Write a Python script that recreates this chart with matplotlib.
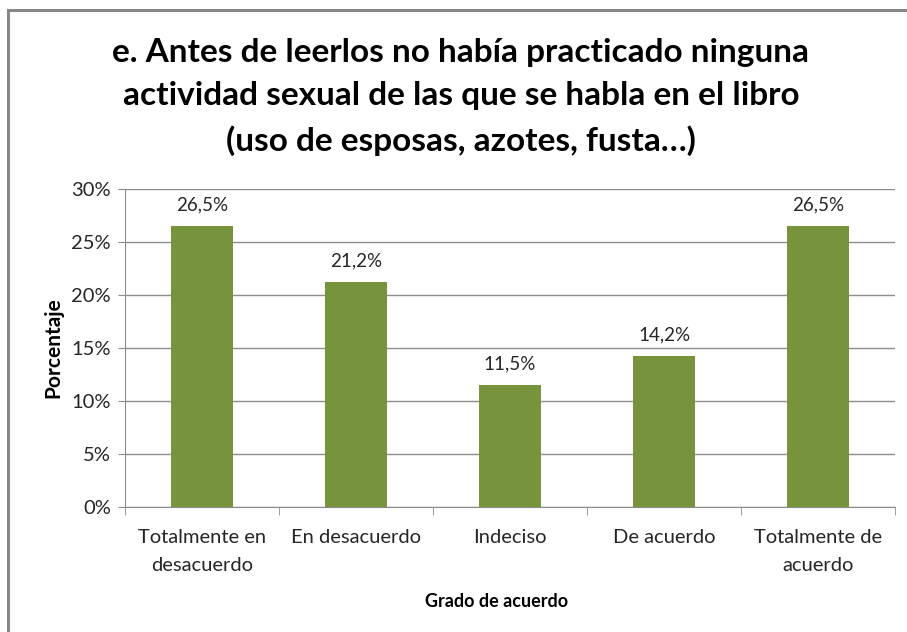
import matplotlib
matplotlib.use("Agg")
import matplotlib.pyplot as plt
from matplotlib.patches import Rectangle
from matplotlib.ticker import FuncFormatter, FixedLocator

categorias = ["Totalmente en\ndesacuerdo", "En desacuerdo", "Indeciso", "De acuerdo", "Totalmente de\nacuerdo"]
porcentajes = [26.5, 21.2, 11.5, 14.2, 26.5]
etiquetas = ["26,5%", "21,2%", "11,5%", "14,2%", "26,5%"]
titulo = "e. Antes de leerlos no había practicado ninguna\nactividad sexual de las que se habla en el libro\n(uso de esposas, azotes, fusta…)"

plt.rcParams['font.family'] = ['Lato', 'DejaVu Sans']

fig = plt.figure(figsize=(9.07, 6.32), dpi=100)
ax = fig.add_axes([125/907, 1 - 507/632, (895 - 125)/907, (507 - 189)/632])

# outer chart frame (cropped at right and bottom)
fig.patches.append(Rectangle((8/907, -0.05), 1.1, 1 - 10/632 + 0.05, transform=fig.transFigure,
                             fill=False, edgecolor='#878787', linewidth=2.2))

x = range(len(categorias))
ax.bar(x, porcentajes, width=0.4, color='#77933C', zorder=3)
for i, v in enumerate(porcentajes):
    ax.text(i, v + 1.2, etiquetas[i], ha='center', va='bottom', fontsize=13.5, color='#262626')

ax.set_xlim(-0.5, len(categorias) - 0.5)
ax.set_ylim(0, 30)
ax.set_yticks(range(0, 31, 5))
ax.yaxis.set_major_formatter(FuncFormatter(lambda v, p: f"{int(v)}%"))
ax.yaxis.grid(True, color='#8c8c8c', linewidth=1)
ax.set_axisbelow(True)

ax.set_xticks(list(x))
ax.set_xticklabels(categorias, fontsize=14.5, color='#262626', linespacing=1.8)
ax.tick_params(axis='x', which='major', length=0, pad=16)
ax.xaxis.set_minor_locator(FixedLocator([i - 0.5 for i in range(len(categorias) + 1)]))
ax.tick_params(axis='x', which='minor', length=6, color='#8c8c8c')
ax.tick_params(axis='y', length=5, color='#8c8c8c', labelsize=14.5, labelcolor='#262626', pad=5)

for s in ['top', 'right']:
    ax.spines[s].set_visible(False)
ax.spines['left'].set_color('#8c8c8c')
ax.spines['bottom'].set_color('#8c8c8c')

ax.set_ylabel("Porcentaje", fontsize=15, fontweight='bold', labelpad=6)
ax.set_xlabel("Grado de acuerdo", fontsize=13, fontweight='bold')
ax.xaxis.set_label_coords(0.483, -0.27)

fig.text(461/907, 1 - 97/632, titulo, ha='center', va='center', fontsize=24,
         fontweight='bold', linespacing=1.58, color='black')

fig.savefig("out.png", dpi=100)
